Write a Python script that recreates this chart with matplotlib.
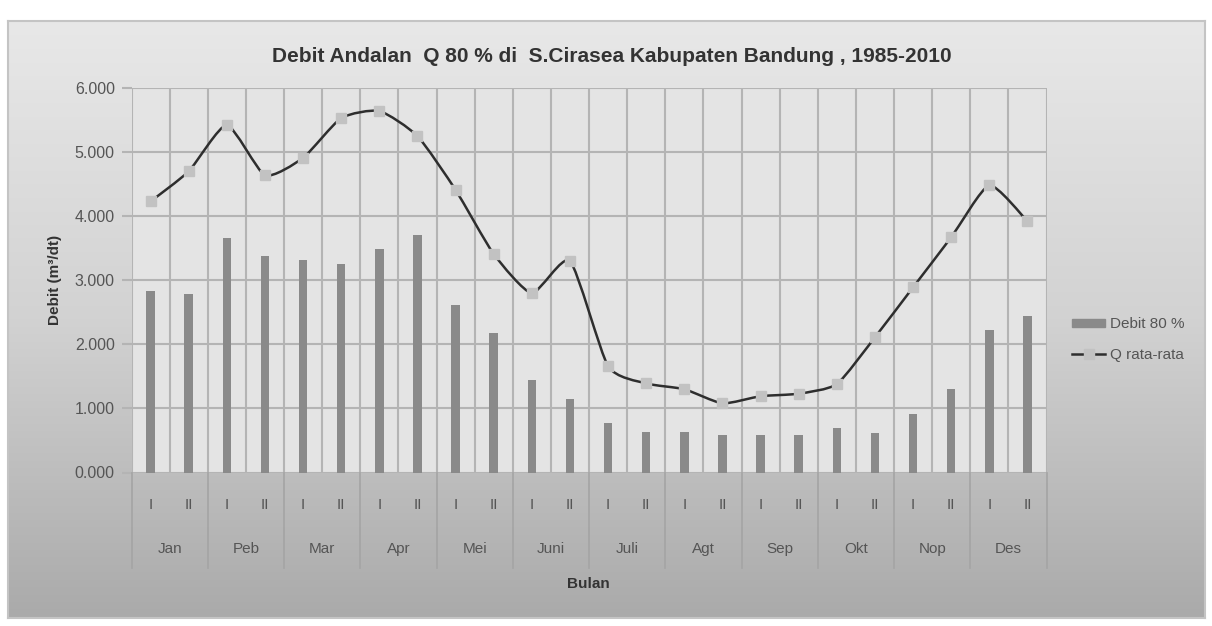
import numpy as np
import matplotlib.pyplot as plt
from matplotlib.colors import LinearSegmentedColormap
from matplotlib.path import Path
from matplotlib.patches import PathPatch
from matplotlib.lines import Line2D
import matplotlib.transforms as mtransforms

plt.rcParams['font.family'] = ['Liberation Sans', 'DejaVu Sans']

# data
months = ['Jan', 'Peb', 'Mar', 'Apr', 'Mei', 'Juni', 'Juli', 'Agt', 'Sep', 'Okt', 'Nop', 'Des']
halves = ['I', 'II']
debit80 = [2.84, 2.78, 3.66, 3.38, 3.31, 3.25, 3.48, 3.70, 2.61, 2.17, 1.44, 1.14,
           0.78, 0.63, 0.63, 0.59, 0.58, 0.58, 0.70, 0.62, 0.91, 1.31, 2.22, 2.44]
q_rata = [4.23, 4.70, 5.42, 4.64, 4.91, 5.53, 5.64, 5.25, 4.41, 3.41, 2.80, 3.30,
          1.66, 1.39, 1.30, 1.08, 1.19, 1.23, 1.38, 2.11, 2.89, 3.67, 4.48, 3.92]

W, H = 1212, 626
fig = plt.figure(figsize=(W / 100, H / 100), dpi=100)
fig.patch.set_facecolor('white')


def px(x0, y0, x1, y1):
    return [x0 / W, 1 - y1 / H, (x1 - x0) / W, (y1 - y0) / H]


# chart area with gray gradient
bg = fig.add_axes(px(8, 21, 1205, 618), zorder=0)
cmap = LinearSegmentedColormap.from_list('g', ['#e8e8e8', '#d2d2d2', '#aaaaaa'])
bg.imshow(np.linspace(0, 1, 256).reshape(-1, 1), aspect='auto', cmap=cmap,
          extent=[0, 1, 0, 1])
bg.set_xticks([])
bg.set_yticks([])
for s in bg.spines.values():
    s.set_color('#c4c4c4')
    s.set_linewidth(1.5)

ax = fig.add_axes(px(131.5, 88, 1046.5, 472.5), zorder=1)
ax.set_facecolor('#e4e4e4')
x = np.arange(len(debit80))
ax.bar(x, debit80, width=0.22, color='#8a8a8a', zorder=2)

# smoothed line (like excel "smoothed line"), drawn as bezier path through the points
pts = np.column_stack([x, q_rata]).astype(float)
ext = np.vstack([pts[0], pts, pts[-1]])
verts = [pts[0]]
codes = [Path.MOVETO]
for i in range(len(pts) - 1):
    p0, p1, p2, p3 = ext[i], ext[i + 1], ext[i + 2], ext[i + 3]
    verts += [p1 + (p2 - p0) / 10, p2 - (p3 - p1) / 10, p2]
    codes += [Path.CURVE4] * 3
ax.add_patch(PathPatch(Path(verts, codes), fill=False, edgecolor='#2e2e2e',
                       lw=1.8, zorder=3))
ax.plot(x, q_rata, ls='none', marker='s', ms=7.5, mfc='#c2c2c2', mec='#c2c2c2',
        zorder=4)

ax.set_xlim(-0.5, len(x) - 0.5)
ax.set_ylim(0, 6)
ax.set_yticks(np.arange(0, 7))
ax.set_yticklabels([f'{v:.3f}' for v in np.arange(0, 7)])
ax.set_xticks([])
ax.set_xticks(np.arange(-0.5, len(x)), minor=True)
ax.grid(axis='y', color='#b4b4b4', lw=1.5, zorder=0)
ax.grid(axis='x', which='minor', color='#b4b4b4', lw=1.5, zorder=0)
ax.set_axisbelow(True)
ax.tick_params(axis='x', which='both', length=0, labelbottom=False)
ax.tick_params(axis='y', length=7, width=1.5, color='#b4b4b4', labelcolor='#555555',
               labelsize=11.5, pad=5)
for s in ax.spines.values():
    s.set_visible(False)

ax.set_ylabel('Debit (m³/dt)', fontsize=11, fontweight='bold', color='#333333')
ax.yaxis.set_label_coords((62 - 131.5) / 915, 0.5)

# two-level category axis
tr = mtransforms.blended_transform_factory(ax.transData, ax.transAxes)
ph = 384.5
for i in x:
    ax.text(i, -(505 - 472.5) / ph, halves[i % 2], transform=tr, ha='center',
            va='center', fontsize=11, color='#555555')
for k, m in enumerate(months):
    ax.text(2 * k + 0.5, -(549 - 472.5) / ph, m, transform=tr, ha='center',
            va='center', fontsize=11, color='#555555')
for k in range(len(months) + 1):
    ax.plot([2 * k - 0.5, 2 * k - 0.5], [0, -(568 - 472.5) / ph], transform=tr,
            color='#a4a4a4', lw=1.2, clip_on=False)
ax.text((588 - 131.5) / 915, -(584 - 472.5) / ph, 'Bulan', transform=ax.transAxes,
        ha='center', va='center', fontsize=11, fontweight='bold', color='#333333')

handles = [
    plt.Rectangle((0, 0), 1, 1, color='#8a8a8a'),
    Line2D([], [], color='#2e2e2e', lw=1.8, marker='s', ms=7.5,
           mfc='#c2c2c2', mec='#c2c2c2'),
]
ax.legend(handles, ['Debit 80 %', 'Q rata-rata'], loc='center left',
          bbox_to_anchor=(1.016, 0.345), frameon=False, fontsize=11,
          handlelength=2.2, handleheight=0.5, labelspacing=1.1, handletextpad=0.3,
          labelcolor='#555555', borderpad=0.2)

fig.text(612 / W, 1 - 57 / H, 'Debit Andalan  Q 80 % di  S.Cirasea Kabupaten Bandung , 1985-2010',
         ha='center', va='center', fontsize=15, fontweight='bold', color='#333333')

fig.savefig('out.png', dpi=100)
